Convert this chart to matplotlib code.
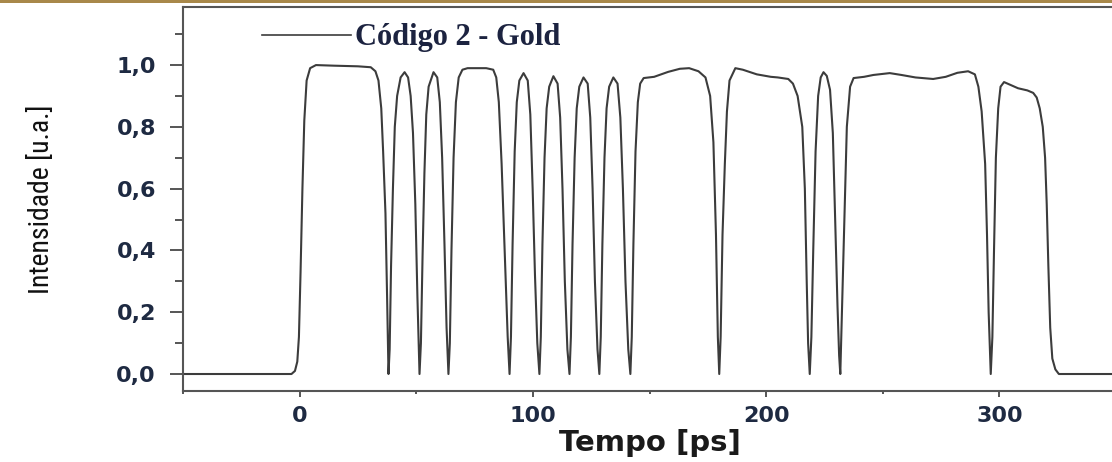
import numpy as np
import matplotlib
matplotlib.use('Agg')
import matplotlib.pyplot as plt
from matplotlib.patches import Rectangle
from matplotlib import font_manager

# pulse train: time [ps] and normalised intensity
tempo_ps = [-50.0, -3.5, -2.0, -1.0, -0.3, 0.4, 1.2, 2.0, 3.0, 4.5, 7.0, 15.0, 25.0, 30.5,
            32.5, 33.8, 35.0, 35.8, 36.8, 37.5, 38.1,
            38.6, 39.2, 40.0, 40.8, 41.8, 43.3, 45.0, 46.5, 47.6, 48.6, 49.6, 50.5, 51.4,
            52.0, 52.7, 53.5, 54.3, 55.3, 57.4, 59.0, 60.1, 61.1, 62.1, 63.0, 63.8,
            64.4, 65.1, 66.0, 67.0, 68.2, 69.8, 72.0, 80.0, 83.0, 84.3, 85.4, 86.6, 87.9, 89.2, 90.0,
            90.6, 91.3, 92.2, 93.1, 94.2, 96.0, 97.8, 98.9, 99.9, 100.9, 101.9, 102.8,
            103.4, 104.1, 105.0, 105.9, 107.0, 108.8, 110.6, 111.7, 112.7, 113.7, 114.8, 115.7,
            116.3, 117.0, 117.9, 118.8, 119.9, 121.7, 123.5, 124.6, 125.6, 126.6, 127.7, 128.5,
            129.1, 129.8, 130.7, 131.6, 132.7, 134.5, 136.3, 137.5, 138.6, 139.7, 140.9, 141.8,
            142.4, 143.1, 144.0, 145.0, 146.0, 147.5, 152.0, 158.0, 163.0, 167.0, 171.0,
            174.0, 176.0, 177.4, 178.5, 179.3, 179.9,
            180.5, 181.3, 182.3, 183.2, 184.3, 186.8, 190.0, 196.0, 202.0, 205.0, 209.5,
            211.5, 213.5, 215.5, 216.6, 217.4, 218.0, 218.7,
            219.4, 220.2, 221.2, 222.3, 223.4, 224.6, 226.0, 227.4, 228.6, 229.6, 230.6, 231.3, 231.8,
            232.5, 233.6, 234.6, 236.0, 237.5, 242.0, 246.0, 253.0, 258.0, 264.0, 271.6, 277.0,
            282.0, 286.6, 289.5, 291.0, 292.4, 293.9, 294.7, 295.4, 296.3,
            297.0, 297.7, 298.5, 299.5, 300.5, 302.0, 305.0, 308.0, 312.0, 314.5, 316.0, 317.3,
            318.6, 319.6, 320.3, 321.0, 321.8, 322.7, 324.0, 325.5, 350.0]
intensidade = [0.0, 0.0, 0.01, 0.04, 0.12, 0.33, 0.6, 0.82, 0.95, 0.99, 1.0, 0.998, 0.996, 0.993,
               0.98, 0.95, 0.86, 0.72, 0.52, 0.25, 0.0,
               0.08, 0.35, 0.6, 0.8, 0.9, 0.96, 0.977, 0.96, 0.9, 0.78, 0.55, 0.25, 0.0,
               0.1, 0.38, 0.65, 0.84, 0.93, 0.977, 0.96, 0.88, 0.7, 0.42, 0.15, 0.0,
               0.1, 0.4, 0.7, 0.88, 0.96, 0.985, 0.99, 0.99, 0.985, 0.96, 0.88, 0.68, 0.4, 0.12, 0.0,
               0.12, 0.42, 0.72, 0.88, 0.95, 0.974, 0.95, 0.84, 0.6, 0.32, 0.1, 0.0,
               0.12, 0.42, 0.7, 0.86, 0.93, 0.964, 0.94, 0.83, 0.6, 0.3, 0.08, 0.0,
               0.12, 0.42, 0.7, 0.86, 0.93, 0.96, 0.94, 0.83, 0.6, 0.3, 0.08, 0.0,
               0.12, 0.42, 0.7, 0.86, 0.93, 0.96, 0.94, 0.83, 0.6, 0.3, 0.08, 0.0,
               0.12, 0.42, 0.72, 0.88, 0.94, 0.958, 0.962, 0.978, 0.988, 0.99, 0.98,
               0.96, 0.9, 0.75, 0.45, 0.12, 0.0,
               0.12, 0.45, 0.68, 0.85, 0.95, 0.99, 0.985, 0.97, 0.962, 0.96, 0.955,
               0.94, 0.9, 0.8, 0.6, 0.3, 0.1, 0.0,
               0.12, 0.4, 0.72, 0.9, 0.96, 0.977, 0.965, 0.92, 0.78, 0.5, 0.22, 0.06, 0.0,
               0.2, 0.52, 0.8, 0.93, 0.958, 0.962, 0.968, 0.974, 0.968, 0.96, 0.955, 0.962,
               0.975, 0.98, 0.97, 0.93, 0.85, 0.68, 0.45, 0.2, 0.0,
               0.12, 0.4, 0.7, 0.86, 0.93, 0.945, 0.935, 0.925, 0.918, 0.91, 0.895, 0.86,
               0.8, 0.7, 0.55, 0.35, 0.15, 0.05, 0.015, 0.0, 0.0]

x_ticks = [0, 100, 200, 300]
x_minor = [-50, 50, 150, 250, 350]
y_ticks = [0.0, 0.2, 0.4, 0.6, 0.8, 1.0]
y_tick_labels = ['0,0', '0,2', '0,4', '0,6', '0,8', '1,0']
y_minor = [0.1, 0.3, 0.5, 0.7, 0.9, 1.1]

# narrow sans for the y label, if one is around
installed = {f.name for f in font_manager.fontManager.ttflist}
narrow = None
for name in ['Liberation Sans Narrow', 'Roboto Condensed', 'Open Sans Condensed', 'DejaVu Sans Condensed']:
    if name in installed:
        narrow = name
        break

W, H = 1112, 462
fig = plt.figure(figsize=(W / 100, H / 100), dpi=100)
fig.patch.set_facecolor('white')

# golden bar along the top of the slide
fig.add_artist(Rectangle((0, 1 - 3 / H), 1, 3 / H, transform=fig.transFigure,
                         facecolor='#a8884a', edgecolor='none'))

left, right, bottom, top = 183, 1116, 391, 7
ax = fig.add_axes([left / W, (H - bottom) / H, (right - left) / W, (bottom - top) / H])

ax.plot(tempo_ps, intensidade, color='#3c3c3c', linewidth=1.5, label='Código 2 - Gold')

ax.set_xlim(-50, 350)
ax.set_ylim(-0.055, 1.188)

for s in ['left', 'bottom', 'top']:
    ax.spines[s].set_color('#555555')
    ax.spines[s].set_linewidth(1.5)
ax.spines['right'].set_visible(False)

tick_color = '#1e2a42'
ax.set_xticks(x_ticks)
ax.set_xticks(x_minor, minor=True)
ax.set_yticks(y_ticks)
ax.set_yticklabels(y_tick_labels)
ax.set_yticks(y_minor, minor=True)
ax.tick_params(axis='x', which='major', direction='out', length=4.5, width=1.4,
               color='#555555', pad=6, labelsize=16, labelcolor=tick_color)
ax.tick_params(axis='x', which='minor', direction='out', length=2.2, width=1.4, color='#555555')
ax.tick_params(axis='y', which='major', direction='out', length=9.5, width=1.4,
               color='#555555', pad=10, labelsize=16, labelcolor=tick_color)
ax.tick_params(axis='y', which='minor', direction='out', length=5.8, width=1.4, color='#555555')
for lab in ax.get_xticklabels() + ax.get_yticklabels():
    lab.set_fontweight('bold')
    lab.set_family('DejaVu Sans')

ax.set_xlabel('Tempo [ps]', fontsize=21, fontweight='bold', color='#1a1a1a',
              family='DejaVu Sans')
ax.xaxis.set_label_coords(0.5, -0.1)
if narrow is not None:
    ax.set_ylabel('Intensidade [u.a.]', fontsize=20, color='#111111', family=narrow)
else:
    ax.set_ylabel('Intensidade [u.a.]', fontsize=17, color='#111111',
                  family='DejaVu Sans', fontstretch='condensed')
ax.yaxis.set_label_coords((55 - left) / (right - left), 0.5)

leg = ax.legend(loc='center left', bbox_to_anchor=((262 - left) / (right - left), (bottom - 38) / (bottom - top)),
                frameon=False, borderpad=0, borderaxespad=0, handlelength=2.9, handletextpad=0.15,
                prop={'family': 'Liberation Serif', 'size': 22, 'weight': 'bold'})
for t in leg.get_texts():
    t.set_color('#1c2340')
for h in leg.get_lines():
    h.set_linewidth(1.2)

fig.savefig('out.png', dpi=100)
